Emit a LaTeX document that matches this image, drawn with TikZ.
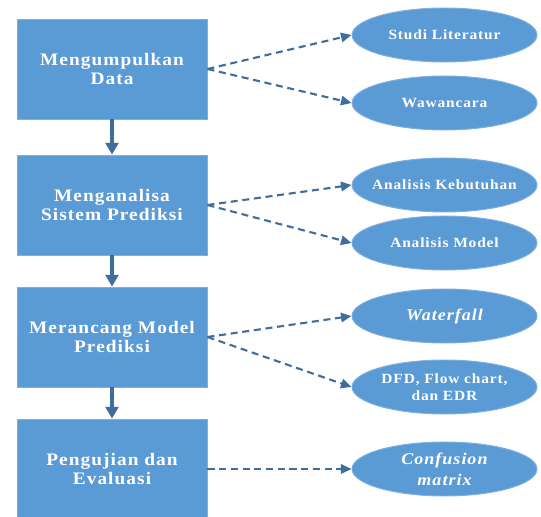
\documentclass[tikz,border=0pt]{standalone}
\usepackage{fontspec}
\setmainfont{Liberation Serif}[FakeStretch=1.1,LetterSpace=6]
\usetikzlibrary{shapes.geometric,arrows.meta}
\definecolor{boxblue}{HTML}{5B9BD5}
\definecolor{rimblue}{HTML}{7DB0E0}
\definecolor{arrowblue}{HTML}{3F6E9E}
\begin{document}
\begin{tikzpicture}[x=0.03cm,y=-0.03cm,
    stepbox/.style={rectangle,fill=boxblue,draw=rimblue,line width=0.8pt,minimum width=5.7cm,minimum height=3cm,
      text=white,align=center,font=\fontsize{15}{17}\selectfont\bfseries},
    result/.style={ellipse,fill=boxblue,draw=rimblue,line width=0.8pt,minimum width=5.55cm,minimum height=1.62cm,inner sep=0pt,
      text=white,align=center,font=\fontsize{12}{14}\selectfont\bfseries},
    flow/.style={arrowblue,line width=2.6pt,-{Triangle[length=10pt,width=11pt]}},
    link/.style={arrowblue,line width=1.8pt,dash pattern=on 6pt off 4pt,-{Triangle[length=9pt,width=8pt]}}]
  \useasboundingbox (0,0) rectangle (541,517);
  \begin{scope}
  \clip (0,0) rectangle (541,517);
  % langkah utama
  \node[stepbox] (kumpul) at (112,69) {Mengumpulkan\\Data};
  \node[stepbox] (analisa) at (112,205) {Menganalisa\\Sistem Prediksi};
  \node[stepbox] (rancang) at (112,337) {Merancang Model\\Prediksi};
  \node[stepbox] (uji) at (112,469) {Pengujian dan\\Evaluasi};
  % hasil tiap langkah
  \node[result] (studi) at (444.5,35) {Studi Literatur};
  \node[result] (wawan) at (444.5,103) {Wawancara};
  \node[result] (butuh) at (444.5,185) {\makebox[3cm]{Analisis Kebutuhan}};
  \node[result] (amodel) at (444.5,243) {Analisis Model};
  \node[result,font=\fontsize{14}{16}\selectfont\bfseries\itshape] (water) at (444.5,316) {Waterfall};
  \node[result] (dfd) at (444.5,387) {\makebox[3cm]{DFD, Flow chart,}\\dan EDR};
  \node[result,font=\fontsize{14}{18}\selectfont\bfseries\itshape] (conf) at (444.5,469) {Confusion\\matrix};
  \end{scope}
  \draw[flow] (kumpul) -- (analisa);
  \draw[flow] (analisa) -- (rancang);
  \draw[flow] (rancang) -- (uji);
  \draw[link] (kumpul.east) -- (studi.west);
  \draw[link] (kumpul.east) -- (wawan.west);
  \draw[link] (analisa.east) -- (butuh.west);
  \draw[link] (analisa.east) -- (amodel.west);
  \draw[link] (rancang.east) -- (water.west);
  \draw[link] (rancang.east) -- (dfd.west);
  \draw[link] (uji.east) -- (conf.west);
\end{tikzpicture}
\end{document}
